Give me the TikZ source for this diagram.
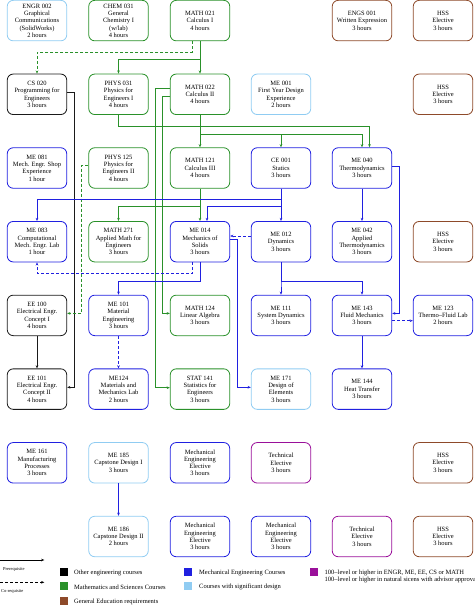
\documentclass[tikz,border=0pt]{standalone}
\usepackage{fontspec}
\setmainfont{Liberation Serif}
\usetikzlibrary{arrows.meta}
\definecolor{eng-black}{HTML}{1A1A1A}
\definecolor{math-green}{HTML}{2A912A}
\definecolor{gened-brown}{HTML}{8E4A2A}
\definecolor{me-blue}{HTML}{2020E0}
\definecolor{design-cyan}{HTML}{90CCF2}
\definecolor{tech-purple}{HTML}{9A109A}

\begin{document}
\begin{tikzpicture}[x=1pt, y=-1pt,
  every node/.style={font=\fontsize{6.5}{7.3}\selectfont},
  course/.style={draw, line width=0.8pt, rounded corners=6pt, minimum width=59.5pt,
    minimum height=40.5pt, align=center, inner sep=1pt},
  engbox/.style={course, draw=eng-black},
  mathbox/.style={course, draw=math-green},
  genbox/.style={course, draw=gened-brown},
  mebox/.style={course, draw=me-blue},
  designbox/.style={course, draw=design-cyan},
  techbox/.style={course, draw=tech-purple},
  prereq/.style={line width=0.8pt, -{Stealth[length=3.2pt, width=2.6pt]}},
  coreq/.style={prereq, dash pattern=on 3pt off 2pt},
  swatch/.style={minimum width=8pt, minimum height=8pt, inner sep=0pt},
  keytext/.style={anchor=west, align=left, inner sep=1pt}]
  \useasboundingbox (0, 0) rectangle (474, 607);

  \node[designbox] (engr002) at (37, 20.6) {ENGR 002\\Graphical\\Communications\\(SolidWorks)\\2 hours};
  \node[mathbox] (chem031) at (118.5, 20.6) {CHEM 031\\General\\Chemistry I\\(w/lab)\\4 hours};
  \node[mathbox] (math021) at (200, 20.6) {MATH 021\\Calculus I\\4 hours};
  \node[genbox] (engs001) at (362, 20.6) {ENGS 001\\Written Expression\\3 hours};
  \node[genbox] (hss1) at (443, 20.6) {HSS\\Elective\\3 hours};

  \node[engbox] (cs020) at (37, 94.3) {CS 020\\Programming for\\Engineers\\3 hours};
  \node[mathbox] (phys031) at (118.5, 94.3) {PHYS 031\\Physics for\\Engineers I\\4 hours};
  \node[mathbox] (math022) at (200, 94.3) {MATH 022\\Calculus II\\4 hours};
  \node[designbox] (me001) at (281, 94.3) {ME 001\\First Year Design\\Experience\\2 hours};
  \node[genbox] (hss2) at (443, 94.3) {HSS\\Elective\\3 hours};

  \node[mebox] (me081) at (37, 168) {ME 081\\Mech. Engr. Shop\\Experience\\1 hour};
  \node[mathbox] (phys125) at (118.5, 168) {PHYS 125\\Physics for\\Engineers II\\4 hours};
  \node[mathbox] (math121) at (200, 168) {MATH 121\\Calculus III\\4 hours};
  \node[mebox] (ce001) at (281, 168) {CE 001\\Statics\\3 hours};
  \node[mebox] (me040) at (362, 168) {ME 040\\Thermodynamics\\3 hours};

  \node[mebox] (me083) at (37, 241.7) {ME 083\\Computational\\Mech. Engr. Lab\\1 hour};
  \node[mathbox] (math271) at (118.5, 241.7) {MATH 271\\Applied Math for\\Engineers\\3 hours};
  \node[mebox] (me014) at (200, 241.7) {ME 014\\Mechanics of\\Solids\\3 hours};
  \node[mebox] (me012) at (281, 241.7) {ME 012\\Dynamics\\3 hours};
  \node[mebox] (me042) at (362, 241.7) {ME 042\\Applied\\Thermodynamics\\3 hours};
  \node[genbox] (hss3) at (443, 241.7) {HSS\\Elective\\3 hours};

  \node[engbox] (ee100) at (37, 315.4) {EE 100\\Electrical Engr.\\Concept I\\4 hours};
  \node[mebox] (me101) at (118.5, 315.4) {ME 101\\Material\\Engineering\\3 hours};
  \node[mathbox] (math124) at (200, 315.4) {MATH 124\\Linear Algebra\\3 hours};
  \node[mebox] (me111) at (281, 315.4) {ME 111\\System Dynamics\\3 hours};
  \node[mebox] (me143) at (362, 315.4) {ME 143\\Fluid Mechanics\\3 hours};
  \node[mebox] (me123) at (443, 315.4) {ME 123\\Thermo–Fluid Lab\\2 hours};

  \node[engbox] (ee101) at (37, 389.1) {EE 101\\Electrical Engr.\\Concept II\\4 hours};
  \node[mebox] (me124) at (118.5, 389.1) {ME124\\Materials and\\Mechanics Lab\\2 hours};
  \node[mathbox] (stat141) at (200, 389.1) {STAT 141\\Statistics for\\Engineers\\3 hours};
  \node[designbox] (me171) at (281, 389.1) {ME 171\\Design of\\Elements\\3 hours};
  \node[mebox] (me144) at (362, 389.1) {ME 144\\Heat Transfer\\3 hours};

  \node[mebox] (me161) at (37, 462.8) {ME 161\\Manufacturing\\Processes\\3 hours};
  \node[designbox] (me185) at (118.5, 462.8) {ME 185\\Capstone Design I\\3 hours};
  \node[mebox] (mel1) at (200, 462.8) {Mechanical\\Engineering\\Elective\\3 hours};
  \node[techbox] (tel1) at (281, 462.8) {Technical\\Elective\\3 hours};
  \node[genbox] (hss4) at (443, 462.8) {HSS\\Elective\\3 hours};

  \node[designbox] (me186) at (118.5, 536.5) {ME 186\\Capstone Design II\\2 hours};
  \node[mebox] (mel2) at (200, 536.5) {Mechanical\\Engineering\\Elective\\3 hours};
  \node[mebox] (mel3) at (281, 536.5) {Mechanical\\Engineering\\Elective\\3 hours};
  \node[techbox] (tel2) at (362, 536.5) {Technical\\Elective\\3 hours};
  \node[genbox] (hss5) at (443, 536.5) {HSS\\Elective\\3 hours};

  \draw[coreq, math-green] ([xshift=-7.7pt]math021.south) -- ++(0, 11) -| (cs020.north);
  \draw[prereq, math-green] (math021) -- (math022);
  \draw[prereq, math-green] (math021.south) -- ++(0, 18) -| (phys031.north);
  \draw[prereq, eng-black] ([yshift=1.6pt]cs020.east) -- ++(7.3, 0) |- ([yshift=1.8pt]ee101.east);
  \draw[prereq, eng-black] (ee100) -- (ee101);
  \draw[prereq, math-green] (phys031.south) -- ++(0, 11.5) -| ([xshift=7.5pt]me040.north);
  \draw[prereq, math-green] (math022.south) -- ++(0, 19) -| (ce001.north);
  \draw[prereq, math-green] (math022.south) -- ++(0, 19) -| (me040.north);
  \draw[prereq, math-green] (math022) -- (math121);
  \draw[prereq, math-green] ([yshift=6pt]math022.west) -- ++(-14.7, 0) |- ([yshift=1.4pt]stat141.west);
  \draw[prereq, math-green] ([yshift=-1.7pt]math022.west) -- ++(-7.3, 0) |- ([yshift=2pt]math124.west);
  \draw[coreq, math-green] ([yshift=2.3pt]phys125.west) -- ++(-7, 0) |- ([yshift=2pt]ee100.east);
  \draw[prereq, math-green] (math121) -- (me014);
  \draw[prereq, math-green] (math121.south) -- ++(0, 18) -| (math271.north);
  \draw[prereq, me-blue] (ce001.south) -- ++(0, 11) -| (me083.north);
  \draw[prereq, me-blue] (ce001.south) -- ++(0, 18) -| ([xshift=7pt]me014.north);
  \draw[prereq, me-blue] (ce001) -- (me012);
  \draw[coreq, me-blue] ([yshift=5.7pt]me012.west) -- ([yshift=5.7pt]me014.east);
  \draw[prereq, me-blue] ([yshift=2.7pt]me014.east) -- ++(7.3, 0) |- ([yshift=1.8pt]me171.west);
  \draw[coreq, me-blue] ([xshift=-7.7pt]me014.south) -- ++(0, 11.4) -| (me083.south);
  \draw[prereq, me-blue] (me014.south) -- ++(0, 18.8) -| (me101.north);
  \draw[prereq, me-blue] (me012.south) -- ++(0, 18.8) -| (me111.north);
  \draw[prereq, me-blue] (me012.south) -- ++(0, 18.8) -| (me143.north);
  \draw[prereq, me-blue] (me040) -- (me042);
  \draw[prereq, me-blue] ([yshift=2pt]me040.east) -- ++(7, 0) |- ([yshift=2pt]me143.east);
  \draw[coreq, me-blue] ([yshift=-5.3pt]me143.east) -- ([yshift=-5.3pt]me123.west);
  \draw[prereq, me-blue] (me143) -- (me144);
  \draw[coreq, me-blue] (me101) -- (me124);
  \draw[prereq, me-blue] (me185) -- (me186);

  \coordinate (pre-start) at (0, 560);
  \coordinate (pre-end) at (44.3, 560);
  \draw[prereq, black] (pre-start) -- (pre-end);
  \node[font=\fontsize{4.5}{5.5}\selectfont] (pre-label) at (13.8, 569.3) {Prerequisite};
  \coordinate (co-start) at (0, 582.3);
  \coordinate (co-end) at (44.3, 582.3);
  \draw[coreq, black] (co-start) -- (co-end);
  \node[font=\fontsize{4.5}{5.5}\selectfont] (co-label) at (12.2, 591.5) {Co-requisite};

  \node[swatch, fill=black] (key-eng) at (63.8, 571.7) {};
  \node[keytext] (key-eng-text) at (73, 572.5) {Other engineering courses};
  \node[swatch, fill=math-green] (key-math) at (63.8, 586.2) {};
  \node[keytext] (key-math-text) at (73, 587) {Mathematics and Sciences Courses};
  \node[swatch, fill=gened-brown] (key-gen) at (63.8, 600.8) {};
  \node[keytext] (key-gen-text) at (73, 601.6) {General Education requirements};
  \node[swatch, fill=me-blue] (key-me) at (188.3, 571.7) {};
  \node[keytext] (key-me-text) at (198, 572.5) {Mechanical Engineering Courses};
  \node[swatch, fill=design-cyan] (key-design) at (188.3, 586.2) {};
  \node[keytext] (key-design-text) at (198, 587) {Courses with significant design};
  \node[swatch, fill=tech-purple] (key-tech) at (313.8, 571.7) {};
  \node[keytext] (key-tech-text) at (323.5, 576.3)
    {100–level or higher in ENGR, ME, EE, CS or MATH\\100–level or higher in natural sicens with advisor approval};
\end{tikzpicture}
\end{document}
